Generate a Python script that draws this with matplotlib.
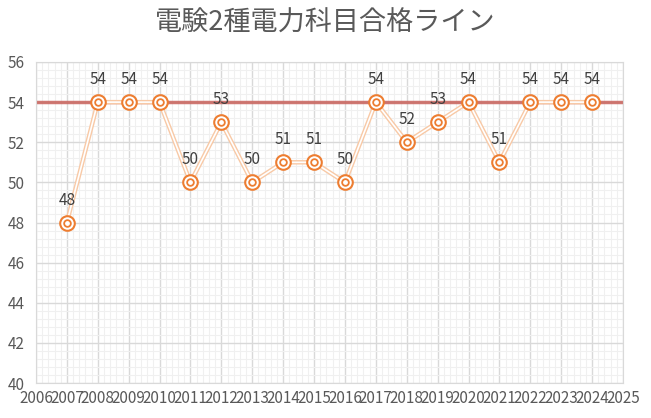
import matplotlib
matplotlib.use("Agg")
import matplotlib.pyplot as plt
from matplotlib.ticker import MultipleLocator
import numpy as np

plt.rcParams['font.family'] = ['Noto Sans CJK JP', 'DejaVu Sans']

years = [2007, 2008, 2009, 2010, 2011, 2012, 2013, 2014, 2015, 2016, 2017, 2018, 2019, 2020, 2021, 2022, 2023, 2024]
scores = [48, 54, 54, 54, 50, 53, 50, 51, 51, 50, 54, 52, 53, 54, 51, 54, 54, 54]
pass_line = 54
title = "電験2種電力科目合格ライン"

fig = plt.figure(figsize=(6.51, 4.18), dpi=100)
ax = fig.add_axes([0.0553, 0.0837, 0.9017, 0.768])

ax.set_xlim(2006, 2025)
ax.set_ylim(40, 56)
ax.xaxis.set_major_locator(MultipleLocator(1))
ax.xaxis.set_minor_locator(MultipleLocator(0.2))
ax.yaxis.set_major_locator(MultipleLocator(2))
ax.yaxis.set_minor_locator(MultipleLocator(0.4))
ax.grid(which='major', color='#D9D9D9', lw=1.0, zorder=0)
ax.grid(which='minor', color='#F0F0F0', lw=0.8, zorder=0)
ax.set_axisbelow(True)
for s in ax.spines.values():
    s.set_color('#D9D9D9')
ax.tick_params(which='both', length=0, colors='#595959', labelsize=11)
ax.tick_params(axis='x', pad=5)
ax.tick_params(axis='y', pad=8)

# pass line
ax.axhline(pass_line, color='#C9625C', lw=2.5, alpha=0.85, zorder=2)

# double line
ax.plot(years, scores, color='#F8C9A6', lw=3.2, zorder=3, solid_joinstyle='miter')
ax.plot(years, scores, color='white', lw=1.2, zorder=3.1)
ax.plot(years, scores, ls='none', marker='o', ms=10.5, mfc='white', mec='#ED7D31', mew=1.5, zorder=4)
ax.plot(years, scores, ls='none', marker='o', ms=4.8, mfc='white', mec='#ED7D31', mew=1.3, zorder=5)

for x, y in zip(years, scores):
    ax.annotate(str(y), (x, y), xytext=(0, 10), textcoords='offset points',
                ha='center', va='bottom', fontsize=11, color='#404040', zorder=6)

fig.text(0.5, 0.945, title, ha='center', va='center', fontsize=19.5, color='#595959')

fig.savefig('out.png', dpi=100)
